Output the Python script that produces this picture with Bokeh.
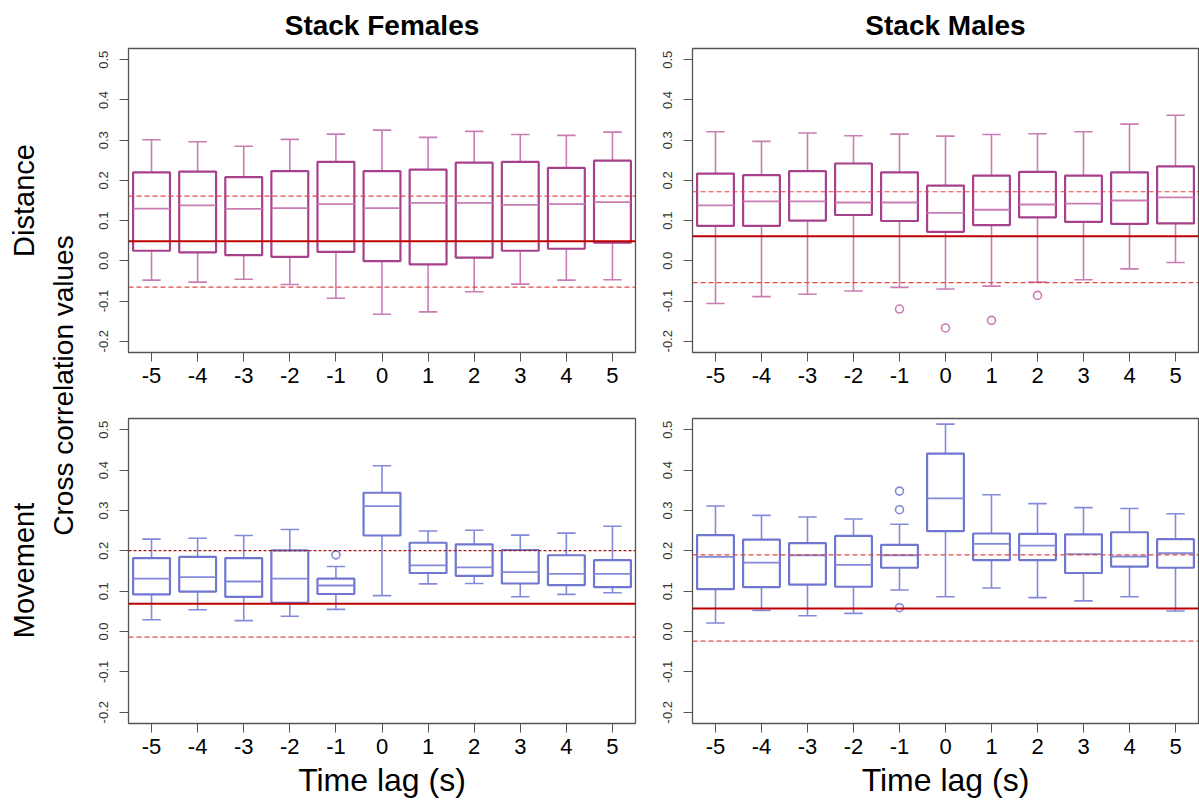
import math
from bokeh.plotting import figure
from bokeh.layouts import row, column
from bokeh.models import Range1d, FixedTicker, NumeralTickFormatter, Span, Label, ColumnDataSource
from bokeh.embed import file_html
from bokeh.resources import INLINE

FONT = "Liberation Sans"

# ---------------- data ----------------
lags = [-5, -4, -3, -2, -1, 0, 1, 2, 3, 4, 5]
y_ticks = [-0.2, -0.1, 0.0, 0.1, 0.2, 0.3, 0.4, 0.5]

# Stack Females - Distance
fd_low = [-0.048, -0.053, -0.046, -0.059, -0.093, -0.133, -0.127, -0.077, -0.058, -0.048, -0.047]
fd_q1 = [0.025, 0.021, 0.014, 0.010, 0.022, -0.001, -0.009, 0.008, 0.025, 0.030, 0.045]
fd_med = [0.130, 0.138, 0.129, 0.131, 0.141, 0.131, 0.144, 0.144, 0.139, 0.141, 0.146]
fd_q3 = [0.220, 0.222, 0.208, 0.223, 0.246, 0.223, 0.227, 0.244, 0.246, 0.231, 0.249]
fd_high = [0.301, 0.296, 0.285, 0.302, 0.315, 0.325, 0.307, 0.322, 0.314, 0.312, 0.320]
fd_out_x = []
fd_out_y = []
fd_ref = [0.0485, 0.161, -0.0655]   # solid, upper dashed, lower dashed

# Stack Males - Distance
md_low = [-0.106, -0.089, -0.083, -0.075, -0.066, -0.070, -0.063, -0.053, -0.047, -0.020, -0.004]
md_q1 = [0.087, 0.087, 0.100, 0.114, 0.099, 0.072, 0.089, 0.108, 0.097, 0.092, 0.093]
md_med = [0.138, 0.148, 0.148, 0.145, 0.145, 0.119, 0.127, 0.140, 0.142, 0.150, 0.158]
md_q3 = [0.217, 0.213, 0.223, 0.242, 0.220, 0.187, 0.212, 0.221, 0.212, 0.220, 0.235]
md_high = [0.321, 0.297, 0.318, 0.311, 0.315, 0.310, 0.314, 0.316, 0.321, 0.340, 0.362]
md_out_x = [-1, 0, 1, 2]
md_out_y = [-0.120, -0.167, -0.148, -0.086]
md_ref = [0.061, 0.1717, -0.054]

# Stack Females - Movement
fm_low = [0.029, 0.054, 0.027, 0.038, 0.055, 0.089, 0.118, 0.119, 0.086, 0.092, 0.096]
fm_q1 = [0.092, 0.099, 0.086, 0.071, 0.093, 0.238, 0.145, 0.138, 0.119, 0.115, 0.110]
fm_med = [0.131, 0.135, 0.124, 0.131, 0.114, 0.311, 0.164, 0.159, 0.147, 0.143, 0.143]
fm_q3 = [0.182, 0.185, 0.182, 0.201, 0.131, 0.344, 0.220, 0.216, 0.202, 0.189, 0.177]
fm_high = [0.229, 0.231, 0.238, 0.253, 0.161, 0.411, 0.249, 0.251, 0.239, 0.244, 0.261]
fm_out_x = [-1]
fm_out_y = [0.190]
fm_ref = [0.069, 0.2005, -0.0138]

# Stack Males - Movement
mm_low = [0.021, 0.052, 0.039, 0.045, 0.103, 0.086, 0.108, 0.084, 0.076, 0.086, 0.051]
mm_q1 = [0.105, 0.110, 0.116, 0.111, 0.158, 0.249, 0.177, 0.177, 0.145, 0.161, 0.158]
mm_med = [0.185, 0.171, 0.189, 0.165, 0.189, 0.330, 0.217, 0.213, 0.192, 0.186, 0.194]
mm_q3 = [0.239, 0.228, 0.219, 0.237, 0.215, 0.441, 0.243, 0.242, 0.241, 0.246, 0.229]
mm_high = [0.311, 0.288, 0.284, 0.279, 0.266, 0.514, 0.339, 0.317, 0.307, 0.305, 0.292]
mm_out_x = [-1, -1, -1]
mm_out_y = [0.348, 0.302, 0.059]
mm_ref = [0.0573, 0.1898, -0.0238]

col_titles = ["Stack Females", "Stack Males"]
row_titles = ["Distance", "Movement"]
y_title = "Cross correlation values"
x_title = "Time lag (s)"

# ---------------- styling ----------------
DIST_DARK = "#A8418C"
DIST_LIGHT = "#C97DB3"
MOV_DARK = "#6F77D0"
MOV_LIGHT = "#838ADA"
FRAME = "#555555"


def panel(low, q1, med, q3, high, out_x, out_y, ref, dark, light, upper_color,
          upper_dash, left_border, right_border, top_border, bottom_border,
          fw, fh, title=None, xlabel=None):
    p = figure(frame_width=fw, frame_height=fh,
               x_range=Range1d(-5.5, 5.5), y_range=Range1d(-0.228, 0.528),
               min_border_left=left_border, min_border_right=right_border,
               min_border_top=top_border, min_border_bottom=bottom_border,
               toolbar_location=None, output_backend="svg",
               background_fill_color="white", border_fill_color="white")
    if title:
        p.title.text = title
        p.title.text_font = FONT
        p.title.text_font_size = "28px"
        p.title.text_font_style = "bold"
        p.title.align = "center"
        p.title.text_color = "black"
        p.title.standoff = 15
    p.grid.visible = False
    p.outline_line_color = FRAME
    p.outline_line_width = 1.3

    src = ColumnDataSource(dict(x=lags, low=low, q1=q1, med=med, q3=q3, high=high,
                                xl=[x - 0.4 for x in lags], xr=[x + 0.4 for x in lags],
                                cl=[x - 0.2 for x in lags], cr=[x + 0.2 for x in lags]))
    # whiskers
    p.segment(x0="x", y0="q3", x1="x", y1="high", source=src, line_color=light, line_width=1.6)
    p.segment(x0="x", y0="low", x1="x", y1="q1", source=src, line_color=light, line_width=1.6)
    # caps
    p.segment(x0="cl", y0="high", x1="cr", y1="high", source=src, line_color=light, line_width=1.6)
    p.segment(x0="cl", y0="low", x1="cr", y1="low", source=src, line_color=light, line_width=1.6)
    # boxes
    p.vbar(x="x", width=0.8, top="q3", bottom="q1", source=src, fill_color=None,
           line_color=dark, line_width=2.2)
    # medians
    p.segment(x0="xl", y0="med", x1="xr", y1="med", source=src, line_color=light, line_width=1.8)
    # outliers
    if out_x:
        p.scatter(x=out_x, y=out_y, marker="circle", size=8, fill_color=None,
                  line_color=light, line_width=1.6)

    # reference lines
    p.add_layout(Span(location=ref[0], dimension="width", line_color="#C00000", line_width=2))
    p.add_layout(Span(location=ref[1], dimension="width", line_color=upper_color,
                      line_width=1.2, line_dash=upper_dash))
    p.add_layout(Span(location=ref[2], dimension="width", line_color="#E04848",
                      line_width=1.2, line_dash="5 3"))

    # axes
    xa = p.xaxis[0]
    xa.ticker = FixedTicker(ticks=lags)
    xa.formatter = NumeralTickFormatter(format="0")
    xa.axis_line_color = None
    xa.major_tick_line_color = FRAME
    xa.major_tick_out = 9
    xa.major_tick_in = 0
    xa.minor_tick_line_color = None
    xa.major_label_text_font = FONT
    xa.major_label_text_font_size = "22px"
    xa.major_label_text_color = "black"
    xa.major_label_standoff = 6
    if xlabel:
        xa.axis_label = xlabel
        xa.axis_label_text_font = FONT
        xa.axis_label_text_font_size = "32px"
        xa.axis_label_text_font_style = "normal"
        xa.axis_label_text_color = "black"
        xa.axis_label_standoff = 5

    ya = p.yaxis[0]
    ya.ticker = FixedTicker(ticks=y_ticks)
    ya.formatter = NumeralTickFormatter(format="0.0")
    ya.axis_line_color = None
    ya.major_tick_line_color = FRAME
    ya.major_tick_out = 9
    ya.major_tick_in = 0
    ya.minor_tick_line_color = None
    ya.major_label_orientation = "vertical"
    ya.major_label_text_font = FONT
    ya.major_label_text_font_size = "13px"
    ya.major_label_text_color = "#333333"
    ya.major_label_standoff = 11
    return p


FW_L, FW_R = 507, 506
tl = panel(fd_low, fd_q1, fd_med, fd_q3, fd_high, fd_out_x, fd_out_y, fd_ref,
           DIST_DARK, DIST_LIGHT, "#E04848", "5 3", 43, 17, 48, 40, FW_L, 304, title=col_titles[0])
tr = panel(md_low, md_q1, md_med, md_q3, md_high, md_out_x, md_out_y, md_ref,
           DIST_DARK, DIST_LIGHT, "#E04848", "5 3", 40, 1, 48, 40, FW_R, 304, title=col_titles[1])
bl = panel(fm_low, fm_q1, fm_med, fm_q3, fm_high, fm_out_x, fm_out_y, fm_ref,
           MOV_DARK, MOV_LIGHT, "#A01818", "3 2", 43, 17, 26, 84, FW_L, 305, xlabel=x_title)
br = panel(mm_low, mm_q1, mm_med, mm_q3, mm_high, mm_out_x, mm_out_y, mm_ref,
           MOV_DARK, MOV_LIGHT, "#E04848", "5 3", 40, 1, 26, 84, FW_R, 305, xlabel=x_title)

# side label strip
lab = figure(width=85, height=807, x_range=Range1d(0, 85), y_range=Range1d(807, 0),
             x_axis_location=None, y_axis_location=None, min_border=0,
             toolbar_location=None, output_backend="svg",
             outline_line_color=None, background_fill_color="white", border_fill_color="white")
lab.grid.visible = False
for txt, xx, yy, fs in [(row_titles[0], 23, 200, "29px"), (row_titles[1], 23, 570, "29px"),
                        (y_title, 63, 385, "28px")]:
    lab.add_layout(Label(x=xx, y=yy, text=txt, angle=math.pi / 2, text_align="center",
                         text_baseline="middle", text_font=FONT, text_font_size=fs,
                         text_color="black"))

layout = row(lab, column(row(tl, tr), row(bl, br)))

open("out.html", "w").write(file_html(layout, INLINE))
